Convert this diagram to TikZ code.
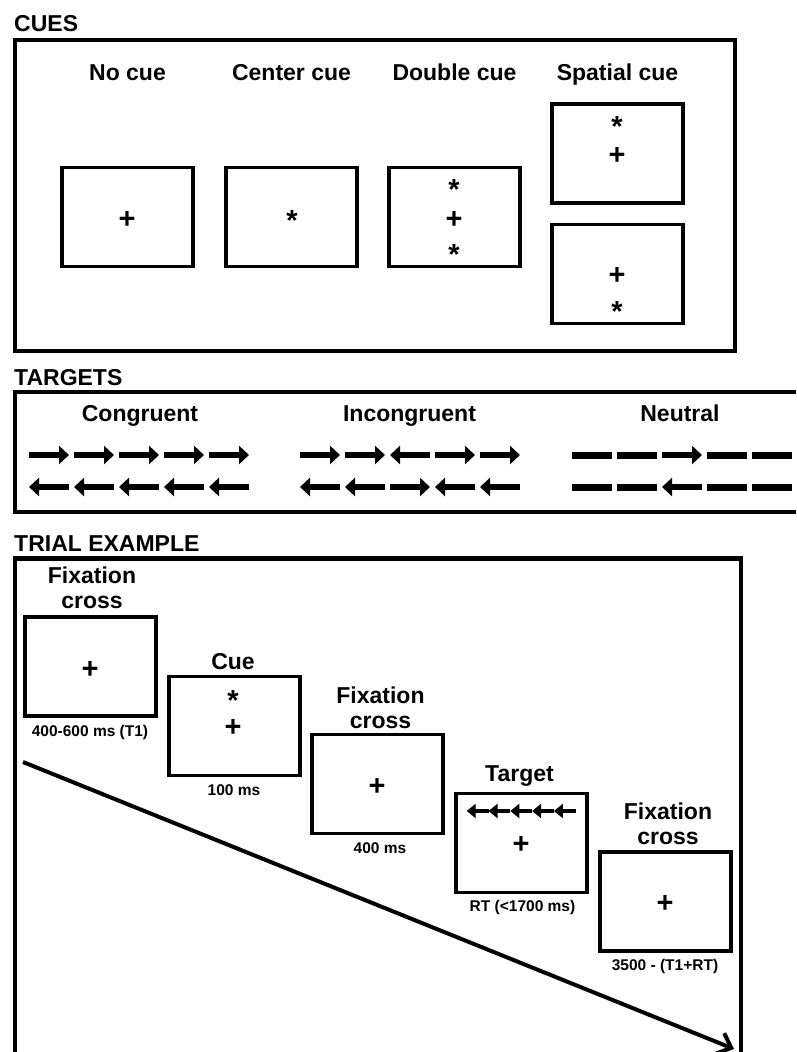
\documentclass[tikz,border=0pt]{standalone}
\usepackage{fontspec}
\setmainfont{Liberation Sans}
\usepackage{tikz}
\usetikzlibrary{arrows.meta,positioning}
\tikzstyle{frame} = [draw, line width=4.5pt]
\tikzstyle{screen} = [rectangle, draw, line width=3.5pt, minimum width=131pt,
    minimum height=99pt, inner sep=0pt]
\tikzstyle{head} = [font=\fontsize{23}{23}\selectfont\bfseries, anchor=base west, inner sep=0pt]
\tikzstyle{title} = [font=\fontsize{23}{25}\selectfont\bfseries, anchor=base, inner sep=0pt,
    align=center]
\tikzstyle{dur} = [font=\fontsize{15.5}{16}\selectfont\bfseries, anchor=base, inner sep=0pt]
\tikzstyle{fixplus} = [font=\fontsize{29}{29}\selectfont\bfseries, inner sep=0pt, outer sep=0pt]
\tikzstyle{cuestar} = [fixplus, anchor=north]
\tikzstyle{flankarrow} = [line width=6pt, -{Triangle[length=10pt,width=18pt]}]
\tikzstyle{flankbar} = [line width=7pt]
\tikzstyle{smallarrow} = [line width=4pt, -{Triangle[length=9pt,width=14pt]}]
\tikzstyle{timearrow} = [line width=4pt, -{Straight Barb[length=12pt,width=22pt]}]
% 1 sag, -1 sol, 0 cizgi
\newcommand{\flank}[3]{%
  \ifnum#3=0 \draw[flankbar] (#1,#2) -- ++(40,0);
  \else\ifnum#3>0 \draw[flankarrow] (#1,#2) -- ++(40,0);
  \else \draw[flankarrow] (#1+40,#2) -- (#1,#2);
  \fi\fi}

\begin{document}
\begin{tikzpicture}[x=1pt, y=-1pt]
\useasboundingbox (0,0) rectangle (796,1052);
    % Ipuclari
    \node [head] (cueshead) at (14,31) {CUES};
    \draw [frame] (15,40) rectangle (735,351);
    \node [title] (nocuetitle) at (127.5,80) {No cue};
    \node [title] (centertitle) at (291.5,80) {Center cue};
    \node [title] (doubletitle) at (454.5,80) {Double cue};
    \node [title] (spatialtitle) at (617.5,80) {Spatial cue};
    \node [screen] (nocue) at (127.5,217) {};
    \node [screen] (centercue) at (291.5,217) {};
    \node [screen] (doublecue) at (454.5,217) {};
    \node [screen] (spatialup) at (617.5,153.5) {};
    \node [screen] (spatialdown) at (617.5,274) {};
    \node [fixplus] (nocueplus) at (127,219.5) {+};
    \node [cuestar] (centerstar) at (292,211) {*};
    \node [cuestar] (doublestarup) at (454,180) {*};
    \node [fixplus] (doubleplus) at (454,219.5) {+};
    \node [cuestar] (doublestardown) at (454,245) {*};
    \node [cuestar] (spatialstarup) at (617,117) {*};
    \node [fixplus] (spatialplusup) at (617,156) {+};
    \node [fixplus] (spatialplusdown) at (617,276) {+};
    \node [cuestar] (spatialstardown) at (617,302) {*};
    % Hedefler
    \node [head] (targetshead) at (14,385) {TARGETS};
    \draw [frame] (796,392) -- (15,392) -- (15,512) -- (796,512);
    \node [title] (congtitle) at (140,421.5) {Congruent};
    \node [title] (incongtitle) at (409.5,421.5) {Incongruent};
    \node [title] (neutraltitle) at (680,421.5) {Neutral};
    \foreach \d [count=\i from 0] in {1,1,1,1,1} \flank{29+45*\i}{455}{\d};
    \foreach \d [count=\i from 0] in {-1,-1,-1,-1,-1} \flank{29+45*\i}{487}{\d};
    \foreach \d [count=\i from 0] in {1,1,-1,1,1} \flank{300+45*\i}{455}{\d};
    \foreach \d [count=\i from 0] in {-1,-1,1,-1,-1} \flank{300+45*\i}{487}{\d};
    \foreach \d [count=\i from 0] in {0,0,1,0,0} \flank{572+45*\i}{455}{\d};
    \foreach \d [count=\i from 0] in {0,0,-1,0,0} \flank{572+45*\i}{487}{\d};
    % Deneme ornegi
    \node [head] (trialhead) at (14,551) {TRIAL EXAMPLE};
    \draw [frame] (15,1052) -- (15,558.5) -- (741,558.5) -- (741,1052);
    \node [screen] (fixone) at (90.5,666.5) {};
    \node [screen] (cuebox) at (234.5,726) {};
    \node [screen] (fixtwo) at (377.5,784) {};
    \node [screen] (targetbox) at (521.5,843) {};
    \node [screen] (fixthree) at (665.5,901.5) {};
    \node [title] (fixonetitle) at (92,608) {Fixation\\cross};
    \node [title] (cuetitle) at (233,669) {Cue};
    \node [title] (fixtwotitle) at (380.5,728) {Fixation\\cross};
    \node [title] (targettitle) at (519.5,781.5) {Target};
    \node [title] (fixthreetitle) at (668,844) {Fixation\\cross};
    \node [fixplus] (fixoneplus) at (90,669.5) {+};
    \node [cuestar] (cuestartrial) at (233,690.5) {*};
    \node [fixplus] (cueplus) at (233,728) {+};
    \node [fixplus] (fixtwoplus) at (377,786.5) {+};
    \node [fixplus] (targetplus) at (521,844.5) {+};
    \node [fixplus] (fixthreeplus) at (665,903.5) {+};
    \foreach \i in {0,...,4}
        \draw [smallarrow] (488.5+21.8*\i,811) -- (466.7+21.8*\i,811);
    \node [dur] (fixonedur) at (90,736.5) {400-600 ms (T1)};
    \node [dur] (cuedur) at (234,795) {100 ms};
    \node [dur] (fixtwodur) at (380,853) {400 ms};
    \node [dur] (targetdur) at (522.5,911.5) {RT (<1700 ms)};
    \node [dur] (fixthreedur) at (665,970) {3500 - (T1+RT)};
    % Zaman oku
    \coordinate (timestart) at (23,762);
    \coordinate (timeend) at (734,1049);
    \draw [timearrow] (timestart) -- (timeend);
\end{tikzpicture}
\end{document}
